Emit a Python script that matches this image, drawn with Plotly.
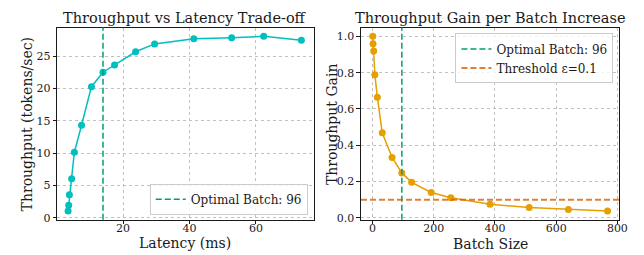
import plotly.graph_objects as go

batch_sizes = [1, 2, 4, 8, 16, 32, 64, 96, 128, 192, 256, 384, 512, 640, 768]
latency_ms = [3.45, 3.63, 3.84, 4.52, 5.33, 7.5, 10.48, 13.96, 17.44, 23.78, 29.5, 41.3, 52.7, 62.35, 73.7]
throughput = [1.06, 1.97, 3.57, 6.05, 10.13, 14.3, 20.27, 22.5, 23.6, 25.66, 26.87, 27.68, 27.84, 28.04, 27.45]
gain = [1.0, 0.959, 0.919, 0.788, 0.664, 0.469, 0.333, 0.248, 0.196, 0.140, 0.111, 0.075, 0.057, 0.047, 0.038]
optimal_batch = 96
threshold = 0.1

opt_idx = batch_sizes.index(optimal_batch)
opt_latency = latency_ms[opt_idx]

FONT = "DejaVu Serif, Liberation Serif, serif"
W, H = 644, 255
CYAN = "#00bfbf"
ORANGE = "#e69f00"
GREEN = "#029e73"
RED = "rgba(213,94,0,0.78)"
TXT = "#1a1a1a"
DASH = "6px,3px"

fig = go.Figure()

fig.add_trace(go.Scatter(x=latency_ms, y=throughput, mode="lines+markers",
                         line=dict(color=CYAN, width=1.5), marker=dict(color=CYAN, size=7),
                         showlegend=False, xaxis="x", yaxis="y"))
fig.add_trace(go.Scatter(x=batch_sizes, y=gain, mode="lines+markers",
                         line=dict(color=ORANGE, width=1.5), marker=dict(color=ORANGE, size=7),
                         showlegend=False, xaxis="x2", yaxis="y2"))

fig.add_shape(type="line", xref="x", yref="y domain", x0=opt_latency, x1=opt_latency, y0=0, y1=1,
              line=dict(color=GREEN, width=1.5, dash=DASH),
              showlegend=True, name=f"Optimal Batch: {optimal_batch}", legend="legend")
fig.add_shape(type="line", xref="x2", yref="y2 domain", x0=optimal_batch, x1=optimal_batch, y0=0, y1=1,
              line=dict(color=GREEN, width=1.5, dash=DASH),
              showlegend=True, name=f"Optimal Batch: {optimal_batch}", legend="legend2")
fig.add_shape(type="line", xref="x2 domain", yref="y2", x0=0, x1=1, y0=threshold, y1=threshold,
              line=dict(color=RED, width=2, dash=DASH),
              showlegend=True, name=f"Threshold ε={threshold}", legend="legend2")

def px_x(p):
    return p / W

def px_y(p):
    return 1 - p / H

axis_common = dict(showline=True, mirror=True, linecolor=TXT, linewidth=1,
                   ticks="outside", ticklen=3.5, tickcolor=TXT,
                   showgrid=True, gridcolor="#c0c0c0", griddash="dot", gridwidth=1,
                   zeroline=False, tickfont=dict(family=FONT, size=11, color=TXT))

legend_common = dict(bgcolor="rgba(255,255,255,0.8)", bordercolor="#cccccc", borderwidth=1,
                     font=dict(family=FONT, size=12, color=TXT), itemwidth=30, tracegroupgap=0)

def label(text, x, y, angle=0, size=14):
    return dict(text=text, x=px_x(x), y=px_y(y), xref="paper", yref="paper",
                xanchor="center", yanchor="middle", showarrow=False, textangle=angle,
                font=dict(family=FONT, size=size, color=TXT))

fig.update_layout(
    width=W, height=H, margin=dict(l=0, r=0, t=0, b=0),
    paper_bgcolor="white", plot_bgcolor="white",
    font=dict(family=FONT, color=TXT),
    xaxis=dict(domain=[px_x(50), px_x(310)], anchor="y", range=[0.2, 77.4],
               tickvals=[20, 40, 60], ticklabelstandoff=-5, **axis_common),
    yaxis=dict(domain=[px_y(216), px_y(20)], anchor="x", range=[-0.29, 29.39],
               tickvals=[0, 5, 10, 15, 20, 25], **axis_common),
    xaxis2=dict(domain=[px_x(358), px_x(620)], anchor="y2", range=[-37.4, 806.4],
                tickvals=[0, 200, 400, 600, 800], ticklabelstandoff=-5, **axis_common),
    yaxis2=dict(domain=[px_y(216), px_y(20)], anchor="x2", range=[-0.01, 1.048],
                tickvals=[0, 0.2, 0.4, 0.6, 0.8, 1.0], tickformat=".1f", **axis_common),
    legend=dict(x=px_x(304), y=px_y(211), xanchor="right", yanchor="bottom", **legend_common),
    legend2=dict(x=px_x(614), y=px_y(26), xanchor="right", yanchor="top", **legend_common),
    annotations=[
        label("Throughput vs Latency Trade-off", 180, 10.5, size=14.5),
        label("Throughput Gain per Batch Increase", 489, 10.5, size=14.5),
        label("Latency (ms)", 180, 240),
        label("Batch Size", 489, 241),
        label("Throughput (tokens/sec)", 19, 118, angle=-90),
        label("Throughput Gain", 328, 118, angle=-90),
    ],
)

fig.write_html("out.html")
